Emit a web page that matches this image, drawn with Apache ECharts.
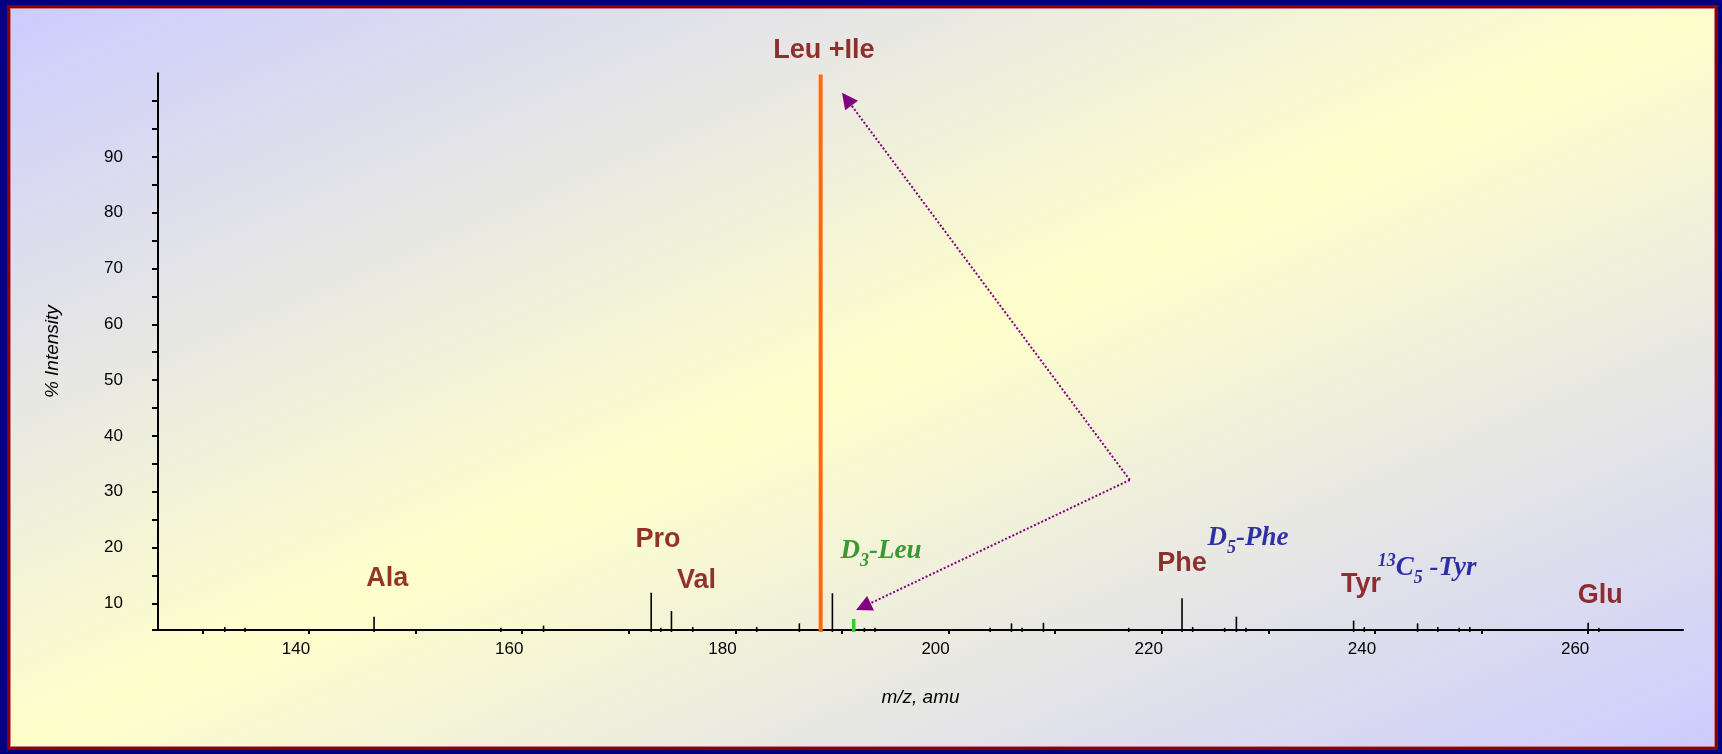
<!DOCTYPE html>
<html><head><meta charset="utf-8">
<script src="https://cdn.jsdelivr.net/npm/echarts@6/dist/echarts.min.js"></script>
<style>
html,body{margin:0;padding:0;width:1722px;height:754px;overflow:hidden;background:#000080;}
#frame{position:absolute;left:7px;top:5px;width:1711px;height:745px;box-sizing:border-box;border:3px solid #8b0000;box-shadow:inset 0 0 0 1px #c87a8a;background:linear-gradient(to bottom right,#ccccff 0%,#ffffcc 50%,#ccccff 100%);}
#chart{position:absolute;left:0;top:0;width:1722px;height:754px;}
</style></head><body>
<div id="frame"></div><div id="chart"></div>
<script>
// ---- axis ranges ----
const X_MIN = 125.83, X_MAX = 268.9;
const Y_MIN = 5.21, Y_MAX = 105;

// ---- tick labels ----
const xLabelValues = [140, 160, 180, 200, 220, 240, 260];
const xTickValues = [130, 140, 150, 160, 170, 180, 190, 200, 210, 220, 230, 240, 250, 260];
const yLabelValues = [10, 20, 30, 40, 50, 60, 70, 80, 90];
const yTickValues = [Y_MIN, 10, 15, 20, 25, 30, 35, 40, 45, 50, 55, 60, 65, 70, 75, 80, 85, 90, 95, 100];

// ---- spectrum peaks (m/z, % intensity) ----
const peakMz = [132.1, 134.0, 146.1, 158.0, 162.0, 172.1, 173.0, 174.0, 176.0, 182.0, 186.0, 189.1,
  192.1, 193.1, 203.9, 205.9, 206.9, 208.9, 216.9, 221.9, 222.9, 225.9, 227.0, 227.9,
  238.0, 239.0, 244.0, 245.9, 247.9, 248.9, 260.0, 261.0];
const peakIntensity = [5.75, 5.6, 7.6, 5.6, 6.0, 11.9, 5.6, 8.6, 5.75, 5.75, 6.4, 11.8,
  5.6, 5.6, 5.6, 6.4, 5.6, 6.5, 5.6, 10.9, 5.75, 5.6, 7.6, 5.6,
  6.9, 5.75, 6.4, 5.75, 5.6, 5.75, 6.5, 5.6];
const leuMz = [188.0];
const leuIntensity = [104.8];
const d3LeuMz = [191.1];
const d3LeuIntensity = [7.2];

// ---- annotations ----
const annotationText = ['{aa|Leu +Ile}', '{aa|Ala}', '{aa|Pro}', '{aa|Val}', '{aa|Phe}', '{aa|Tyr}', '{aa|Glu}',
  '{g|D}{gs|3}{g|-Leu}', '{b|D}{bs|5}{b|-Phe}', '{bsup|13}{b|C}{bs|5}{b| -Tyr}'];
const annotationMz = [188.3, 147.34, 172.74, 176.36, 221.9, 238.7, 261.13, 193.67, 228.08, 244.9];
const annotationIntensity = [109.6, 14.9, 21.89, 14.54, 17.59, 13.95, 11.94, 19.9, 22.16, 16.82];

// ---- arrows: from apex to the two peaks ----
const arrowApex = [217.0, 32.1];
const arrowTips = [[190.45, 100.37], [192.0, 9.4]];

const SANS = 'Liberation Sans, Arial, sans-serif';
const SERIF = 'Liberation Serif, Times New Roman, serif';

function stickSeries(xs, ys, color, width) {
  return {
    type: 'custom', clip: false, silent: true, z: 3,
    data: xs.map((x, i) => [x, ys[i]]),
    renderItem: function (params, api) {
      const top = api.coord([api.value(0), api.value(1)]);
      const base = api.coord([api.value(0), Y_MIN]);
      return {
        type: 'line',
        shape: { x1: top[0], y1: top[1], x2: base[0], y2: base[1] + 2 },
        style: { stroke: color, lineWidth: width }
      };
    }
  };
}

const ser = (fs, color, extra) => Object.assign({
  fontFamily: SERIF, fontStyle: 'italic', fontWeight: 'bold', fontSize: fs, color: color, lineHeight: 34
}, extra || {});

const RED = '#780000', BLUE = '#000096', GREEN = '#0a820a';

const chart = echarts.init(document.getElementById('chart'), null, { renderer: 'canvas' });
chart.setOption({
  backgroundColor: 'transparent',
  animation: false,
  grid: { left: 158, top: 73.3, right: 39, bottom: 124, containLabel: false, outerBoundsMode: 'none' },
  xAxis: {
    type: 'value', min: X_MIN, max: X_MAX,
    name: 'm/z, amu', nameLocation: 'middle', nameGap: 58,
    nameTextStyle: { fontFamily: SANS, fontStyle: 'italic', fontSize: 19, color: '#000' },
    axisLine: { show: true, onZero: false, lineStyle: { color: '#000', width: 2 } },
    axisTick: { show: true, length: 4, lineStyle: { color: '#000', width: 2 }, customValues: xTickValues },
    axisLabel: { show: true, customValues: xLabelValues, margin: 11, fontFamily: SANS, fontSize: 17, color: '#000', padding: [0, 26, 0, 0] },
    splitLine: { show: false }
  },
  yAxis: {
    type: 'value', min: Y_MIN, max: Y_MAX,
    name: '% Intensity', nameLocation: 'middle', nameGap: 96, nameRotate: 90,
    nameTextStyle: { fontFamily: SANS, fontStyle: 'italic', fontSize: 19, color: '#000' },
    axisLine: { show: true, onZero: false, lineStyle: { color: '#000', width: 2 } },
    axisTick: { show: true, length: 6, lineStyle: { color: '#000', width: 2 }, customValues: yTickValues },
    axisLabel: { show: true, customValues: yLabelValues, margin: 35, fontFamily: SANS, fontSize: 17, color: '#000' },
    splitLine: { show: false }
  },
  series: [
    stickSeries(peakMz, peakIntensity, '#000000', 1.6),
    stickSeries(leuMz, leuIntensity, '#ff6a10', 4),
    stickSeries(d3LeuMz, d3LeuIntensity, '#33cc33', 3.5),
    {
      type: 'lines', coordinateSystem: 'cartesian2d', silent: true, z: 4,
      symbol: ['none', 'triangle'], symbolSize: 16,
      lineStyle: { color: '#800080', width: 2, type: [2, 2], opacity: 1, curveness: 0 },
      data: arrowTips.map(t => ({ coords: [arrowApex, t] }))
    },
    {
      type: 'scatter', silent: true, clip: false, symbolSize: 0, z: 5,
      data: annotationMz.map((x, i) => ({
        value: [x, annotationIntensity[i]],
        label: { formatter: annotationText[i] }
      })),
      label: {
        show: true, position: 'inside', align: 'center', verticalAlign: 'middle', offset: [0, 3],
        rich: {
          aa: { fontFamily: SANS, fontWeight: 'bold', fontSize: 27, color: RED, lineHeight: 34 },
          g: ser(27, GREEN),
          gs: ser(18, GREEN, { padding: [20, 0, 0, 0] }),
          b: ser(27, BLUE),
          bs: ser(18, BLUE, { padding: [20, 0, 0, 0] }),
          bsup: ser(18, BLUE, { padding: [0, 0, 14, 0] })
        }
      }
    }
  ]
});
</script>
</body></html>
